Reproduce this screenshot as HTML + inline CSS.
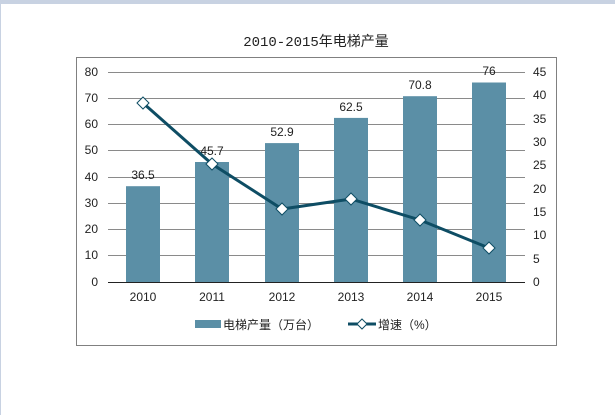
<!DOCTYPE html>
<html><head><meta charset="utf-8"><style>
html,body{margin:0;padding:0;background:#fff;}
body{width:615px;height:415px;overflow:hidden;position:relative;}
svg{position:absolute;left:0;top:0;}
text{font-family:"Liberation Sans","Noto Sans CJK SC",sans-serif;font-size:12px;fill:#222;}
</style></head><body>
<svg width="615" height="415" viewBox="0 0 615 415">
<rect x="0" y="0" width="615" height="4" fill="#c8d2e2"/>
<rect x="0" y="0" width="1" height="415" fill="#c8d2e2"/>
<rect x="76.5" y="57.5" width="480" height="288" fill="#fff" stroke="#808080"/>
<text x="316" y="46" text-anchor="middle" style="font-family:'Liberation Mono','Noto Sans CJK SC',monospace;font-size:14px">2010-2015年电梯产量</text>
<g stroke="#8a8a8a" stroke-width="1">
<line x1="108" x2="525" y1="72.5" y2="72.5"/><line x1="108" x2="525" y1="98.5" y2="98.5"/>
<line x1="108" x2="525" y1="124.5" y2="124.5"/><line x1="108" x2="525" y1="150.5" y2="150.5"/>
<line x1="108" x2="525" y1="177.5" y2="177.5"/><line x1="108" x2="525" y1="203.5" y2="203.5"/>
<line x1="108" x2="525" y1="229.5" y2="229.5"/><line x1="108" x2="525" y1="255.5" y2="255.5"/>
</g>
<g text-anchor="end">
<text x="98" y="76">80</text><text x="98" y="102">70</text><text x="98" y="128">60</text><text x="98" y="154">50</text>
<text x="98" y="181">40</text><text x="98" y="207">30</text><text x="98" y="233">20</text><text x="98" y="259">10</text><text x="98" y="286">0</text>
</g>
<g>
<text x="533" y="76">45</text><text x="533" y="99">40</text><text x="533" y="123">35</text><text x="533" y="146">30</text>
<text x="533" y="169">25</text><text x="533" y="193">20</text><text x="533" y="216">15</text><text x="533" y="239">10</text>
<text x="533" y="263">5</text><text x="533" y="286">0</text>
</g>
<g fill="#5b8fa6">
<rect x="126" y="186.2" width="34" height="95.8"/>
<rect x="195" y="162" width="34" height="120"/>
<rect x="265" y="143.1" width="34" height="138.9"/>
<rect x="334" y="117.9" width="34" height="164.1"/>
<rect x="403" y="96.2" width="34" height="185.8"/>
<rect x="472" y="82.5" width="34" height="199.5"/>
</g>
<line x1="108" x2="525" y1="282.5" y2="282.5" stroke="#222"/>
<g text-anchor="middle">
<text x="143" y="179">36.5</text><text x="212" y="155">45.7</text><text x="282" y="136">52.9</text>
<text x="351" y="111">62.5</text><text x="420" y="89">70.8</text><text x="489" y="75">76</text>
<text x="143" y="301">2010</text><text x="212" y="301">2011</text><text x="282" y="301">2012</text>
<text x="351" y="301">2013</text><text x="420" y="301">2014</text><text x="489" y="301">2015</text>
</g>
<polyline points="143,103 212,164 282,209 351,199 420,220 489,248" fill="none" stroke="#0e4d64" stroke-width="3"/>
<g fill="#fff" stroke="#0e4d64" stroke-width="1">
<path d="M143 97l6 6-6 6-6-6z"/><path d="M212 158l6 6-6 6-6-6z"/><path d="M282 203l6 6-6 6-6-6z"/>
<path d="M351 193l6 6-6 6-6-6z"/><path d="M420 214l6 6-6 6-6-6z"/><path d="M489 242l6 6-6 6-6-6z"/>
</g>
<rect x="195" y="320" width="26" height="8" fill="#5b8fa6"/>
<text x="223" y="329">电梯产量（万台）</text>
<line x1="348" x2="376" y1="324" y2="324" stroke="#0e4d64" stroke-width="3"/>
<path d="M362 319l5 5-5 5-5-5z" fill="#fff" stroke="#0e4d64"/>
<text x="378" y="329">增速（%）</text>
</svg>
</body></html>
